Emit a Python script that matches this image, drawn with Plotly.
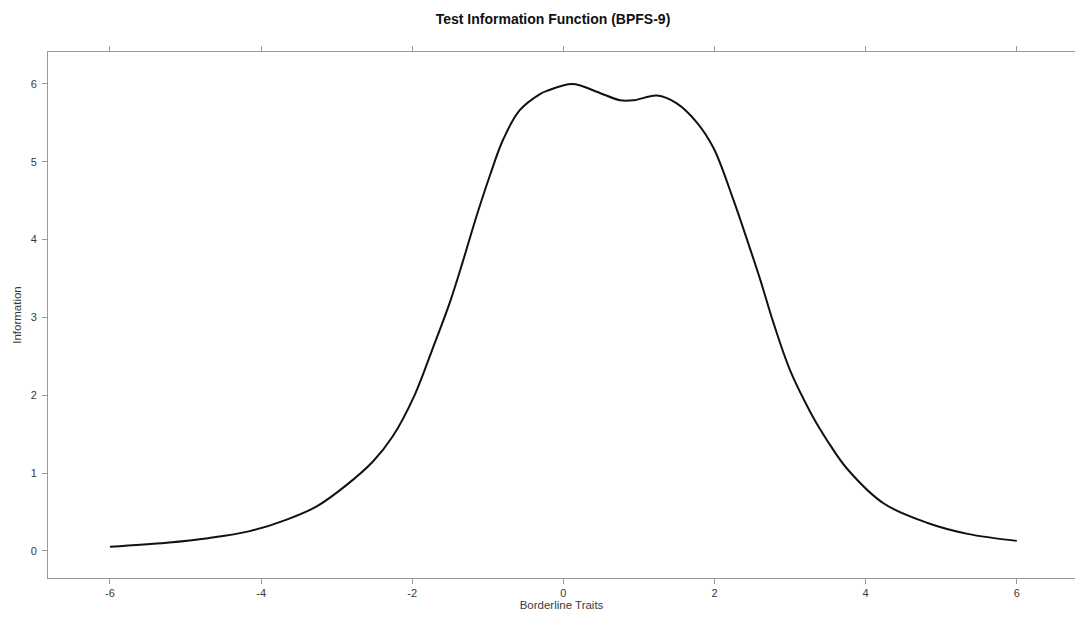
import plotly.graph_objects as go

# Data
theta = [-6.0, -5.25, -4.7, -4.15, -3.67, -3.27, -2.88, -2.52, -2.26, -1.97,
         -1.73, -1.5, -1.33, -1.15, -0.97, -0.8, -0.58, -0.31, -0.22, 0.12,
         0.44, 0.75, 0.93, 1.24, 1.5, 1.77, 1.99, 2.25, 2.43, 2.61,
         2.78, 3.0, 3.27, 3.4, 3.53, 3.76, 4.24, 4.82, 5.35, 6.0]
information = [0.055, 0.107, 0.165, 0.255, 0.40, 0.57, 0.84, 1.15, 1.47, 2.0,
               2.6, 3.2, 3.72, 4.30, 4.83, 5.28, 5.66, 5.87, 5.91, 6.0,
               5.90, 5.79, 5.79, 5.85, 5.75, 5.50, 5.17, 4.51, 4.0, 3.47,
               2.93, 2.32, 1.78, 1.56, 1.36, 1.05, 0.61, 0.36, 0.22, 0.13]

x_ticks = [-6, -4, -2, 0, 2, 4, 6]
y_ticks = [0, 1, 2, 3, 4, 5, 6]

W, H = 1075, 621
ML, MR, MT, MB = 48, 0, 52, 43

fig = go.Figure()
fig.add_trace(go.Scatter(
    x=theta, y=information, mode="lines",
    line=dict(color="#111111", width=2, shape="spline", smoothing=1.0),
    showlegend=False, hoverinfo="skip",
))

axis_grey = "#9a9a9a"
label_grey = "#3a3a3a"
font_family = "Liberation Sans, Arial, sans-serif"
x_range = [-6.82, 6.77]

fig.update_layout(
    width=W, height=H,
    margin=dict(l=ML, r=MR, t=MT, b=MB, pad=0),
    paper_bgcolor="white", plot_bgcolor="white",
    font=dict(family=font_family, size=11, color=label_grey),
    title=dict(
        text="<b>Test Information Function (BPFS-9)</b>",
        x=553 / W, xref="container", xanchor="center",
        y=1 - 19 / H, yref="container", yanchor="middle",
        font=dict(family=font_family, size=14, color="#111111"),
    ),
    xaxis=dict(
        range=x_range, tickvals=x_ticks, ticktext=[str(v) for v in x_ticks],
        showgrid=False, zeroline=False,
        showline=True, linecolor=axis_grey, linewidth=1,
        ticks="outside", ticklen=5, tickcolor=axis_grey, tickwidth=1,
        mirror="ticks",
        title=dict(text="Borderline Traits", font=dict(size=11.5, color=label_grey), standoff=2),
        tickfont=dict(size=11, color=label_grey),
    ),
    yaxis=dict(
        range=[-0.347, 6.41], tickvals=y_ticks, ticktext=[str(v) for v in y_ticks],
        showgrid=False, zeroline=False,
        showline=True, linecolor=axis_grey, linewidth=1,
        ticks="outside", ticklen=5, tickcolor=axis_grey, tickwidth=1,
        mirror=False, ticklabelstandoff=3,
        title=dict(text="Information", font=dict(size=11.5, color=label_grey), standoff=6),
        tickfont=dict(size=11, color=label_grey),
    ),
)

fig.write_html("out.html", config={"displayModeBar": False, "staticPlot": True})
